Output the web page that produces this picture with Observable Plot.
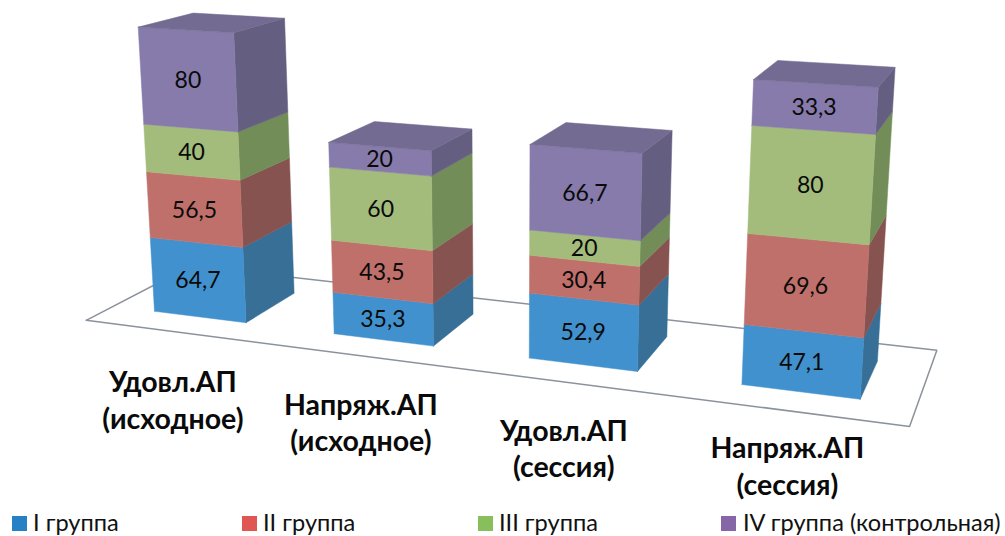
<!doctype html>
<html><head><meta charset="utf-8">
<style>
html,body{margin:0;background:#fff}
#chart{width:1005px;height:505px}
#legend{position:relative;width:1005px;height:31px;font-family:Lato,"Noto Sans",sans-serif;font-size:23.6px;color:#111}
#legend i{position:absolute;top:11px;width:15px;height:15px}
#legend span{position:absolute;top:5px;line-height:24px;white-space:nowrap}
</style>
<script src="https://cdn.jsdelivr.net/npm/d3@7"></script>
<script src="https://cdn.jsdelivr.net/npm/@observablehq/plot@0.6"></script>
</head><body>
<div id="chart"></div><div id="legend"></div>
<script>
const categories = ["Удовл.АП\n(исходное)", "Напряж.АП\n(исходное)", "Удовл.АП\n(сессия)", "Напряж.АП\n(сессия)"];
const groups = ["I группа", "II группа", "III группа", "IV группа (контрольная)"];
const group1 = [64.7, 35.3, 52.9, 47.1];
const group2 = [56.5, 43.5, 30.4, 69.6];
const group3 = [40, 60, 20, 80];
const group4 = [80, 20, 66.7, 33.3];
const series = [group1, group2, group3, group4];

const frontColors = ["#4191CE", "#C0706A", "#A3BC7C", "#867BAB"];
const sideColors  = ["#376F96", "#875350", "#738D59", "#645F80"];
const topColor = "#736B91";
const legendColors = ["#2580C4", "#E05652", "#88BE5C", "#8766A8"];

// Camera fitted to the 3D scene: (category, value/100, depth) -> picture
const H = [169.220229, -9.433442, 126.092211, 85.714382, 9.3568, -120.289347, -25.31976, 319.834207, -0.040283, -0.018564, 0.110205];
const halfWidth = 0.26, zFront = 0.24, zBack = 0.75;
function project(X, value, Z) {
  const Y = value / 100, d = H[8]*X + H[9]*Y + H[10]*Z + 1;
  return {x: (H[0]*X + H[1]*Y + H[2]*Z + H[3]) / d, y: (H[4]*X + H[5]*Y + H[6]*Z + H[7]) / d};
}
const faces = [];
function face(id, color, corners) {
  [...corners, corners[0]].forEach(([X, v, Z]) => faces.push({id, color, ...project(X, v, Z)}));
}
const labels = [];
categories.forEach((cat, i) => {
  const c = i + 0.5, l = c - halfWidth, r = c + halfWidth;
  let base = 0;
  series.forEach((values, s) => {
    const top = base + values[i];
    face(`s${i}-${s}`, sideColors[s], [[r, base, zFront], [r, base, zBack], [r, top, zBack], [r, top, zFront]]);
    face(`f${i}-${s}`, frontColors[s], [[l, base, zFront], [r, base, zFront], [r, top, zFront], [l, top, zFront]]);
    labels.push({text: String(values[i]).replace(".", ","), ...project(c, (base + top) / 2, zFront)});
    base = top;
  });
  face(`t${i}`, topColor, [[l, base, zFront], [r, base, zFront], [r, base, zBack], [l, base, zBack]]);
});
const floor = [];
[[0,0],[4,0],[4,1],[0,1],[0,0]].forEach(([X, Z]) => floor.push(project(X, 0, Z)));
// Category labels sit below each bar's base, nudged in picture pixels
const labelDx = [-27, -22.5, -19, -13], labelDy = [82, 82, 83, 73];
const catLabels = categories.map((text, i) => {
  const p = project(i + 0.5, 0, zFront);
  return {text, x: p.x + labelDx[i], y: p.y + labelDy[i]};
});

const font = 'Lato, "Noto Sans", sans-serif';
const W = 1005, Ht = 505;
const plot = Plot.plot({
  width: W, height: Ht, margin: 0,
  x: {domain: [0, W], range: [0, W], axis: null},
  y: {domain: [0, Ht], range: [0, Ht], axis: null},
  color: {type: "identity"},
  marks: [
    Plot.line(floor, {x: "x", y: "y", stroke: "#8C929C", strokeWidth: 1.5, fill: "#fff", strokeLinejoin: "miter"}),
    Plot.line(faces, {x: "x", y: "y", z: "id", fill: "color", stroke: "color", strokeWidth: 0.5}),
    Plot.text(labels, {x: "x", y: "y", dy: 1, text: "text", fontFamily: font, fontSize: 23, fill: "#0a0a0a"}),
    Plot.text(catLabels, {x: "x", y: "y", text: "text", fontFamily: font, fontSize: 28.5, fontWeight: 700, lineHeight: 1.27, fill: "#0a0a0a"})
  ]
});
document.getElementById("chart").append(plot);

const swatchX = [12, 242, 478, 721], textX = [33, 263, 499, 743];
const legend = document.getElementById("legend");
groups.forEach((g, i) => {
  const sw = document.createElement("i");
  sw.style.left = swatchX[i] + "px"; sw.style.background = legendColors[i];
  const t = document.createElement("span");
  t.style.left = textX[i] + "px"; t.textContent = g;
  legend.append(sw, t);
});
</script></body></html>
